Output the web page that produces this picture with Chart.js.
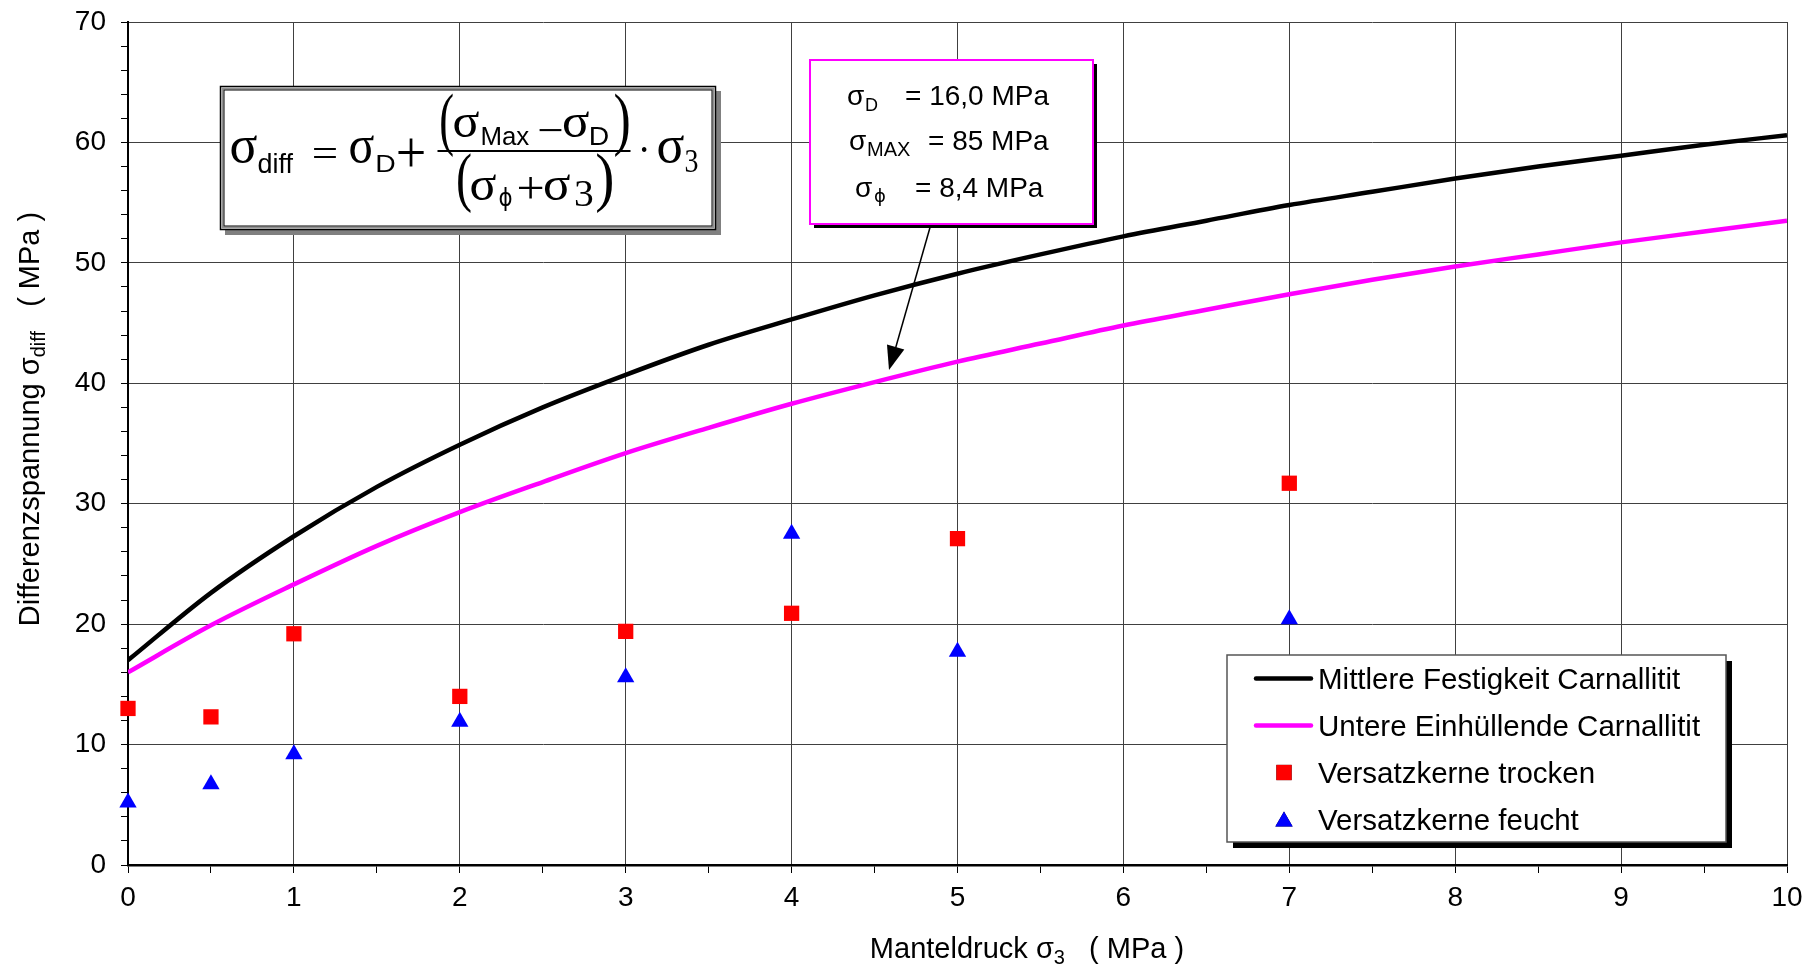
<!DOCTYPE html>
<html>
<head>
<meta charset="utf-8">
<script src="https://cdn.jsdelivr.net/npm/chart.js@4.4.1/dist/chart.umd.min.js"></script>
<style>
    html, body { margin: 0; padding: 0; background: #fff; }
</style>
</head>
<body>
<canvas id="graficoCarnallitit" width="1811" height="969"></canvas>
<script>
// Stützstellen der Kurven (Manteldruck in MPa)
const kurveX = [0, 0.5, 1, 1.5, 2, 2.5, 3, 3.5, 4, 4.5, 5, 5.5, 6, 6.5, 7, 7.5, 8, 8.5, 9, 9.5, 10];
const mittlereFestigkeit = [17.0, 22.6, 27.3, 31.4, 34.9, 38.0, 40.7, 43.2, 45.3, 47.3, 49.1, 50.7, 52.2, 53.5, 54.8, 55.9, 57.0, 58.0, 58.9, 59.8, 60.6];
const untereEinhuellende = [16.0, 19.9, 23.3, 26.5, 29.3, 31.8, 34.2, 36.3, 38.3, 40.1, 41.8, 43.3, 44.8, 46.1, 47.4, 48.6, 49.7, 50.7, 51.7, 52.6, 53.5];

// Versuchsergebnisse Versatzkerne
const versuchX = [0, 0.5, 1, 2, 3, 4, 5, 7];
const versatzTrocken = [13.0, 12.3, 19.2, 14.0, 19.4, 20.9, 27.1, 31.7];
const versatzFeucht = [5.2, 6.7, 9.2, 11.9, 15.6, 27.5, 17.7, 20.4];

const legendeTexte = ['Mittlere Festigkeit Carnallitit', 'Untere Einhüllende Carnallitit', 'Versatzkerne trocken', 'Versatzkerne feucht'];
const parameterWerte = ['= 16,0 MPa', '= 85 MPa', '= 8,4 MPa'];

const SANS = '"Liberation Sans", Arial, sans-serif';
const SERIF = '"Liberation Serif", "Times New Roman", serif';
const PHI = '"DejaVu Sans", sans-serif';

function paare(xs, ys) {
    return xs.map((x, i) => ({ x: x, y: ys[i] }));
}

function text(ctx, t, size, fam, x, y) {
    ctx.font = size + 'px ' + fam;
    ctx.fillText(t, x, y);
}

// Zeichen so zeichnen, dass die Tinte genau in den Kasten x1..x2 / y1..y2 passt
function glyphe(ctx, t, fam, x1, y1, x2, y2) {
    ctx.font = '100px ' + fam;
    const m = ctx.measureText(t);
    const l = m.actualBoundingBoxLeft, r = m.actualBoundingBoxRight;
    const a = m.actualBoundingBoxAscent, d = m.actualBoundingBoxDescent;
    const sx = (x2 - x1) / (l + r), sy = (y2 - y1) / (a + d);
    ctx.save();
    ctx.translate(x1 + l * sx, y1 + a * sy);
    ctx.scale(sx, sy);
    ctx.fillText(t, 0, 0);
    ctx.restore();
}

function teileBreite(ctx, teile) {
    let b = 0;
    for (const [t, size] of teile) {
        ctx.font = size + 'px ' + SANS;
        b += ctx.measureText(t).width;
    }
    return b;
}
function zeichneTeile(ctx, teile, x, y) {
    let cx = x;
    for (const [t, size, dy] of teile) {
        ctx.font = size + 'px ' + SANS;
        ctx.fillText(t, cx, y + (dy || 0));
        cx += ctx.measureText(t).width;
    }
}

function kasten(ctx, x1, y1, x2, y2, schatten, versatz, rand, randBreite) {
    ctx.fillStyle = schatten;
    ctx.fillRect(x1 + versatz, y1 + versatz, x2 - x1, y2 - y1);
    ctx.fillStyle = '#fff';
    ctx.fillRect(x1, y1, x2 - x1, y2 - y1);
    ctx.strokeStyle = rand;
    ctx.lineWidth = randBreite;
    ctx.strokeRect(x1, y1, x2 - x1, y2 - y1);
}

const beschriftung = {
    id: 'beschriftung',
    afterDraw(chart) {
        const ctx = chart.ctx;
        const ds = chart.data.datasets;
        ctx.save();
        ctx.textBaseline = 'alphabetic';
        ctx.textAlign = 'left';
        ctx.fillStyle = '#000';

        // Achsentitel x
        const xTeile = [['Manteldruck ', 29], ['σ', 29], ['3', 20, 6], ['   ( MPa )', 29]];
        zeichneTeile(ctx, xTeile, 1027 - teileBreite(ctx, xTeile) / 2, 958);

        // Achsentitel y (gedreht)
        const yTeile = [['Differenzspannung ', 29], ['σ', 29], ['diff', 20, 6], ['   ( MPa )', 29]];
        ctx.save();
        ctx.translate(39, 419);
        ctx.rotate(-Math.PI / 2);
        zeichneTeile(ctx, yTeile, -teileBreite(ctx, yTeile) / 2, 0);
        ctx.restore();

        // Formelkasten
        ctx.fillStyle = '#808080';
        ctx.fillRect(225, 91, 496, 144);
        ctx.fillStyle = '#fff';
        ctx.fillRect(220, 86, 496, 144);
        ctx.strokeStyle = '#000';
        ctx.lineWidth = 1.5;
        ctx.strokeRect(220.5, 86.5, 495, 143);
        ctx.strokeStyle = '#909090';
        ctx.lineWidth = 2;
        ctx.strokeRect(222.5, 88.5, 491, 139);
        ctx.strokeStyle = '#000';
        ctx.lineWidth = 1;
        ctx.strokeRect(224, 90, 488, 136);

        ctx.fillStyle = '#000';
        const formel = [
            ['σ', SERIF, 231, 135, 257, 163], ['diff', SANS, 258.5, 152, 293, 173], ['=', SERIF, 313.5, 149, 336, 158.5],
            ['σ', SERIF, 350, 135, 374, 163], ['D', SANS, 377.5, 155, 394.5, 172], ['+', SERIF, 398, 138.5, 424, 166.5],
            ['(', SERIF, 441, 93, 453, 158], ['σ', SERIF, 454, 112, 479, 137], ['Max', SANS, 482.5, 127, 529, 145],
            ['−', SERIF, 539, 129, 561.5, 131.5], ['σ', SERIF, 563.5, 112, 589, 137], ['D', SANS, 591, 127, 608, 145],
            [')', SERIF, 615, 93, 628.5, 158],
            ['(', SERIF, 458, 153.5, 471, 213], ['σ', SERIF, 471, 175, 496, 200], ['ϕ', PHI, 499.5, 187, 511.5, 211.5],
            ['+', SERIF, 518.5, 177, 542.5, 198.5], ['σ', SERIF, 544.5, 175, 570, 200], ['3', SERIF, 575.5, 180, 592.5, 206.5],
            [')', SERIF, 597, 153.5, 612, 213],
            ['·', SERIF, 641.5, 147.5, 646.5, 152.5], ['σ', SERIF, 658, 135, 684, 163], ['3', SERIF, 685.5, 150, 697.5, 173]
        ];
        formel.forEach(f => glyphe(ctx, f[0], f[1], f[2], f[3], f[4], f[5]));
        ctx.fillRect(437.5, 150, 193, 2);

        // Parameterkasten mit Pfeil
        ctx.strokeStyle = '#000';
        ctx.lineWidth = 1.5;
        ctx.beginPath();
        ctx.moveTo(931, 224);
        ctx.lineTo(895, 350);
        ctx.stroke();
        const pw = Math.atan2(370 - 224, 889 - 931);
        ctx.beginPath();
        ctx.moveTo(889, 370);
        ctx.lineTo(889 - 24 * Math.cos(pw) + 9 * Math.sin(pw), 370 - 24 * Math.sin(pw) - 9 * Math.cos(pw));
        ctx.lineTo(889 - 24 * Math.cos(pw) - 9 * Math.sin(pw), 370 - 24 * Math.sin(pw) + 9 * Math.cos(pw));
        ctx.closePath();
        ctx.fillStyle = '#000';
        ctx.fill();

        kasten(ctx, 810, 60, 1093, 224, '#000', 4, '#ff00ff', 2);
        ctx.fillStyle = '#000';
        text(ctx, 'σ', 28, SANS, 847, 105); text(ctx, 'D', 18, SANS, 865, 111); text(ctx, parameterWerte[0], 28, SANS, 905, 105);
        text(ctx, 'σ', 28, SANS, 849, 150); text(ctx, 'MAX', 20, SANS, 867, 156); text(ctx, parameterWerte[1], 28, SANS, 928, 150);
        text(ctx, 'σ', 28, SANS, 855, 197); text(ctx, 'ϕ', 18, PHI, 874, 202); text(ctx, parameterWerte[2], 28, SANS, 915, 197);

        // Legende
        kasten(ctx, 1227, 655, 1726, 842, '#000', 6, '#555', 1.5);
        const zeilen = [678.5, 725.5, 772.5, 819.5];
        zeilen.forEach((zy, i) => {
            const d = ds[i];
            if (i < 2) {
                ctx.strokeStyle = d.borderColor;
                ctx.lineWidth = 4.5;
                ctx.lineCap = 'round';
                ctx.beginPath();
                ctx.moveTo(1256, zy);
                ctx.lineTo(1311, zy);
                ctx.stroke();
            } else {
                Chart.helpers.drawPoint(ctx, {
                    pointStyle: d.pointStyle, radius: d.pointRadius, borderWidth: 0, rotation: 0
                }, 1284, i === 3 ? zy + 2 : zy);
                ctx.fillStyle = d.backgroundColor;
                ctx.fill();
            }
            ctx.fillStyle = '#000';
            text(ctx, legendeTexte[i], 29.5, SANS, 1318, zy + 10.5);
        });
        ctx.restore();
    }
};

const ctx = document.getElementById('graficoCarnallitit').getContext('2d');
new Chart(ctx, {
    type: 'scatter',
    data: {
        datasets: [{
            label: legendeTexte[0],
            data: paare(kurveX, mittlereFestigkeit),
            showLine: true,
            borderColor: '#000000',
            borderWidth: 4.5,
            pointRadius: 0,
            cubicInterpolationMode: 'monotone'
        }, {
            label: legendeTexte[1],
            data: paare(kurveX, untereEinhuellende),
            showLine: true,
            borderColor: '#ff00ff',
            borderWidth: 4.5,
            pointRadius: 0,
            cubicInterpolationMode: 'monotone'
        }, {
            label: legendeTexte[2],
            data: paare(versuchX, versatzTrocken),
            pointStyle: 'rect',
            pointRadius: 10.8,
            backgroundColor: '#ff0000',
            borderWidth: 0,
            clip: false
        }, {
            label: legendeTexte[3],
            data: paare(versuchX, versatzFeucht),
            pointStyle: 'triangle',
            pointRadius: 10,
            backgroundColor: '#0000ff',
            borderWidth: 0,
            clip: false
        }]
    },
    options: {
        responsive: false,
        animation: false,
        devicePixelRatio: 1,
        layout: { padding: { top: 22, right: 24, left: 0, bottom: 0 } },
        plugins: {
            legend: { display: false },
            tooltip: { enabled: false }
        },
        scales: {
            x: {
                type: 'linear',
                min: 0,
                max: 10,
                afterFit: s => { s.height = 104; s.paddingLeft = 0; s.paddingRight = 0; },
                ticks: {
                    stepSize: 0.5,
                    autoSkip: false,
                    maxRotation: 0,
                    padding: 8,
                    color: '#000',
                    font: { family: SANS, size: 28 },
                    callback: v => Number.isInteger(v) ? String(v) : ''
                },
                grid: {
                    color: c => (c.tick && Number.isInteger(c.tick.value)) ? '#404040' : 'rgba(0,0,0,0)',
                    tickColor: '#000',
                    tickLength: 8,
                    lineWidth: 1
                },
                border: { color: '#000', width: 2.5 }
            },
            y: {
                min: 0,
                max: 70,
                afterFit: s => { s.width = 128; s.paddingTop = 0; s.paddingBottom = 0; },
                ticks: {
                    stepSize: 2,
                    autoSkip: false,
                    padding: 15,
                    color: '#000',
                    font: { family: SANS, size: 28 },
                    callback: v => v % 10 === 0 ? String(v) : ''
                },
                grid: {
                    color: c => (c.tick && c.tick.value % 10 === 0) ? '#404040' : 'rgba(0,0,0,0)',
                    tickColor: '#000',
                    tickLength: 7,
                    lineWidth: 1
                },
                border: { color: '#000', width: 2 }
            }
        }
    },
    plugins: [beschriftung]
});
</script>
</body>
</html>
